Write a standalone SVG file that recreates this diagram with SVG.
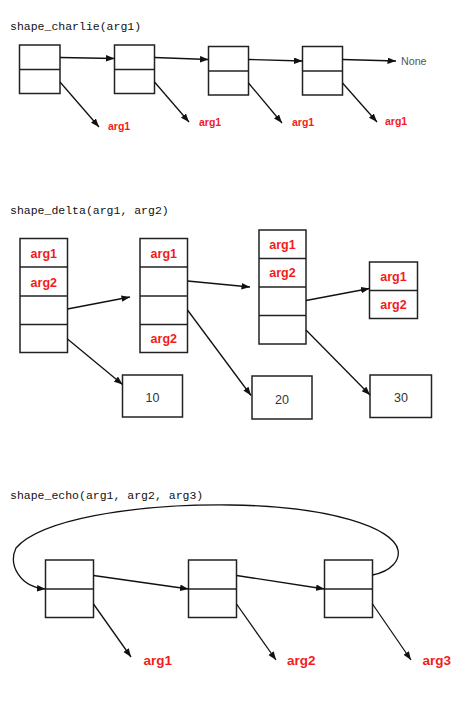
<svg xmlns="http://www.w3.org/2000/svg" width="470" height="712" viewBox="0 0 470 712">
<defs>
<marker id="ah" markerUnits="userSpaceOnUse" markerWidth="9" markerHeight="7" refX="8.5" refY="3.25" orient="auto">
<path d="M0,0 L8.5,3.25 L0,6.5 z" fill="#111"/>
</marker>
</defs>
<style>
.title{font-family:"Liberation Mono",monospace;font-size:11.5px;fill:#111}
.box{fill:#fff;stroke:#222;stroke-width:1.5}
.div{stroke:#222;stroke-width:1.5}
.red{font-family:"Liberation Sans",Arial,sans-serif;font-weight:bold;fill:#f21c1c}
.r1{font-size:10.5px}
.r2{font-size:12.5px;text-anchor:middle}
.r3{font-size:13.5px}
.num{font-family:"Liberation Sans",Arial,sans-serif;font-size:12.5px;fill:#333;text-anchor:middle}
.none{font-family:"Liberation Sans",Arial,sans-serif;font-size:10.7px;fill:#555}
.c{fill:none;stroke:#111;stroke-width:1.3;marker-end:url(#ah)}
</style>
<rect width="470" height="712" fill="#fff"/>

<text class="title" x="10" y="30">shape_charlie(arg1)</text>
<text class="title" x="10" y="213.5">shape_delta(arg1, arg2)</text>
<text class="title" x="10" y="498.5">shape_echo(arg1, arg2, arg3)</text>

<!-- section 1 -->
<g id="c1"><rect class="box" x="19.5" y="45" width="40.5" height="48.5"/><line class="div" x1="19.5" y1="69.5" x2="60" y2="69.5"/></g>
<g id="c2"><rect class="box" x="114.5" y="45" width="40" height="48.5"/><line class="div" x1="114.5" y1="69.5" x2="154.5" y2="69.5"/></g>
<g id="c3"><rect class="box" x="208.5" y="46.5" width="40" height="48.5"/><line class="div" x1="208.5" y1="71" x2="248.5" y2="71"/></g>
<g id="c4"><rect class="box" x="302.5" y="46.5" width="40" height="48.5"/><line class="div" x1="302.5" y1="71" x2="342.5" y2="71"/></g>
<g id="cnone"><text class="none" x="401" y="64.5">None</text></g>
<g id="ca1"><text class="red r1" x="108" y="130">arg1</text></g>
<g id="ca2"><text class="red r1" x="199" y="126">arg1</text></g>
<g id="ca3"><text class="red r1" x="292" y="126">arg1</text></g>
<g id="ca4"><text class="red r1" x="385" y="125">arg1</text></g>

<!-- section 2 -->
<g id="d1"><rect class="box" x="20" y="238.5" width="47.5" height="114"/>
<line class="div" x1="20" y1="267" x2="67.5" y2="267"/><line class="div" x1="20" y1="296" x2="67.5" y2="296"/><line class="div" x1="20" y1="324.5" x2="67.5" y2="324.5"/>
<text class="red r2" x="43.8" y="257.5">arg1</text><text class="red r2" x="43.8" y="286.5">arg2</text></g>
<g id="d2"><rect class="box" x="140" y="238.5" width="47.5" height="114"/>
<line class="div" x1="140" y1="267" x2="187.5" y2="267"/><line class="div" x1="140" y1="296" x2="187.5" y2="296"/><line class="div" x1="140" y1="324.5" x2="187.5" y2="324.5"/>
<text class="red r2" x="163.8" y="257.5">arg1</text><text class="red r2" x="163.8" y="343">arg2</text></g>
<g id="d3"><rect class="box" x="259" y="230" width="47" height="114"/>
<line class="div" x1="259" y1="258.5" x2="306" y2="258.5"/><line class="div" x1="259" y1="287" x2="306" y2="287"/><line class="div" x1="259" y1="315.5" x2="306" y2="315.5"/>
<text class="red r2" x="282.5" y="248.5">arg1</text><text class="red r2" x="282.5" y="277">arg2</text></g>
<g id="d4"><rect class="box" x="369.5" y="262" width="48" height="56.5"/>
<line class="div" x1="369.5" y1="290.5" x2="417.5" y2="290.5"/>
<text class="red r2" x="393.5" y="280.5">arg1</text><text class="red r2" x="393.5" y="309">arg2</text></g>
<g id="d10"><rect class="box" x="122.5" y="375" width="60" height="42"/><text class="num" x="152.5" y="402">10</text></g>
<g id="d20"><rect class="box" x="252" y="376" width="60" height="43"/><text class="num" x="282" y="403.5">20</text></g>
<g id="d30"><rect class="box" x="370" y="375" width="61.5" height="42.5"/><text class="num" x="401" y="402">30</text></g>

<!-- section 3 -->
<g id="e1"><rect class="box" x="45.5" y="560" width="48" height="57.5"/><line class="div" x1="45.5" y1="589" x2="93.5" y2="589"/></g>
<g id="e2"><rect class="box" x="188.5" y="560" width="48" height="57.5"/><line class="div" x1="188.5" y1="589" x2="236.5" y2="589"/></g>
<g id="e3"><rect class="box" x="324.5" y="560" width="48" height="57.5"/><line class="div" x1="324.5" y1="589" x2="372.5" y2="589"/></g>
<g id="ea1"><text class="red r3" x="143.5" y="665">arg1</text></g>
<g id="ea2"><text class="red r3" x="287" y="665">arg2</text></g>
<g id="ea3"><text class="red r3" x="422.5" y="665">arg3</text></g>

<g id="connectors">
<line class="c" x1="60" y1="57.5" x2="114.5" y2="58.5"/>
<line class="c" x1="154.5" y1="57.5" x2="208.5" y2="59.5"/>
<line class="c" x1="248.5" y1="59.5" x2="302.5" y2="61"/>
<line class="c" x1="342.5" y1="59.5" x2="396" y2="61"/>
<line class="c" x1="60" y1="82" x2="99" y2="127"/>
<line class="c" x1="154.5" y1="82" x2="189" y2="122"/>
<line class="c" x1="248.5" y1="83" x2="282" y2="123"/>
<line class="c" x1="342.5" y1="83" x2="377" y2="122"/>

<line class="c" x1="67.5" y1="309" x2="130" y2="297"/>
<line class="c" x1="67.5" y1="339" x2="122.5" y2="384.5"/>
<line class="c" x1="187.5" y1="281" x2="250" y2="287"/>
<line class="c" x1="187.5" y1="310" x2="251" y2="395.5"/>
<line class="c" x1="306" y1="300.5" x2="369.5" y2="288.5"/>
<line class="c" x1="306" y1="330" x2="370" y2="395"/>

<line class="c" x1="93.5" y1="575.5" x2="188.5" y2="589"/>
<line class="c" x1="236.5" y1="575.5" x2="324.5" y2="589"/>
<line class="c" x1="93.5" y1="604" x2="131" y2="657"/>
<line class="c" x1="236.5" y1="604" x2="276" y2="660"/>
<line class="c" x1="372.5" y1="604" x2="411" y2="660"/>
<path class="c" d="M372.5,575 C392,571 400,560 398,550 C394,528 330,506 230,505 C130,504 40,520 16,548 C8,565 20,587 45.5,589"/>
</g>
</svg>
